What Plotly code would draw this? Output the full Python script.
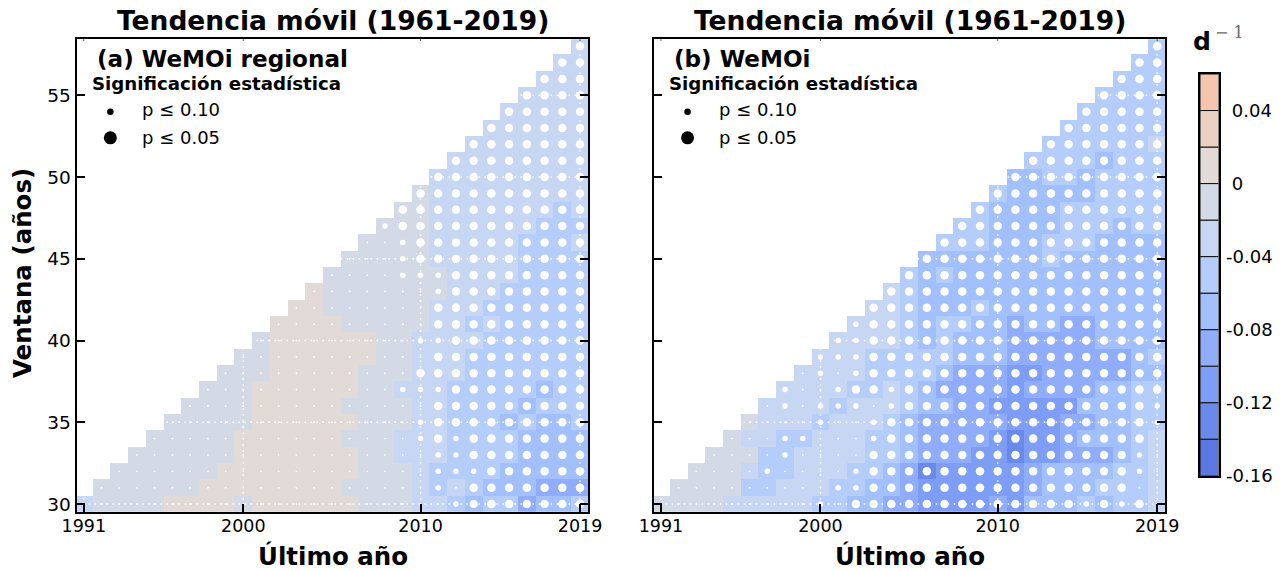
import plotly.graph_objects as go

W, H = 1286, 571
FONT = "DejaVu Sans"

# Window lengths (rows) and last years (columns)
windows = list(range(30, 59))
years = list(range(1991, 2020))
x_ticks = [1991, 2000, 2010, 2019]
y_ticks = [30, 35, 40, 45, 50, 55]

# Trend class per cell: class k means trend in [-0.16+0.02k, -0.14+0.02k); each row starts at year 1961+window
trend_a = [
    "6 7777 8888 7 888888 777 66 5 4 5 5 3 4 4 5",
    "777777 88888888 7777 6 5 6 5 444 333",
    "777777 88888888 777 6 5555 44444",
    "777777 8888888 77 666 5555 4444",
    "77777 888888 777 666 5555 4444",
    "77777 888888 777 66 555 4 5 44 5",
    "7777 88888 7777 66 5555 4 555",
    "777 888888 77 666 55555 4 55",
    "777 88888 777 666 5555555",
    "77 888888 77 666 5555555",
    "7 888888 77 6666 555555",
    "8888 77777 66 5 6 55555",
    "88 777777 666 555555",
    "8 7777777 666 55555",
    "7777777 6666 5555",
    "77777 66666 5555",
    "7777 66666 555 6",
    "777 666666 555",
    "77 6666666 5 6",
    "7 666666666",
    "666666666", "66666666", "6666666", "666666", "66666", "6666", "666", "66", "6",
]
trend_b = [
    "7777 66666 55 44 3 3 2222 3 2 444 5 4 55 6",
    "7777 55 666 55 44 3 222222 3 444 555 6",
    "777 6 55 666 55 4 3 1 22222 3 4444 55 6",
    "777 55 6666 55 4 333 22 1 22 333 4 5 6",
    "7 66 55 666 55 4 3333 2 1 22 3 444 5 6",
    "7 666 5 66 6 5 4 3 3333 222 33 44 55",
    "6666 5 666 5 44 33 22222 444 55",
    "6666 55 6 5 4 3333 2 3333 44 55",
    "6666 555 5 4 333 22 33333 44",
    "666 555 55 444 3333333 4 5",
    "6666 5 4 5 444 33333 4444",
    "666 5 4 55 44 3 44 33 4444",
    "66 5 444 5 4444444444",
    "6 5 44444444444444",
    "5 4 5 444444444444",
    "4444444 5 444444",
    "555 444 555 4444",
    "55 4444 555 4 55",
    "5 4444 555555",
    "5 44444 5555",
    "44 55 4 5555",
    "5555 4 555",
    "555555 6",
    "555555", "55555", "5555", "555", "55", "5",
]

# Significance per cell: 0 none, 1 p<=0.10, 2 p<=0.05
sig_a = [
    "000000000000000000000 1 2222222",
    "0000000000000000000 1 0 2222222",
    "000000000000000000 111 222222",
    "00000000000000000 11 2222222",
    "000000000000000 1 2 1 2222222",
    "00000000000000 1 222222222",
    "00000000000000 222222222",
    "00000000000 111 22222222",
    "00000000000 2222222222",
    "00000000000 222222222",
    "000000000 11 22222222",
    "000000000 222222222",
    "00000000 222222222",
    "0000000 1 22222222",
    "0000 111 22222222",
    "000 1 2222222222",
    "00 1 2222222222",
    "1 22222222222",
    "22222222222", "2222222222", "222222222", "22222222", "2222222", "222222",
    "22222", "2222", "222", "22", "2",
]
sig_b = [
    "000000000 1 0 2222222222222 1 2 1 2 0",
    "000000000 11 222222222222222 00",
    "0000 1 0000 1 222222222222222 1 0",
    "0000 1 0000 222222222222222 1 0",
    "000 11 000 1 222222222222222 0",
    "0000 1 00 1 222222222222222 1",
    "0 1 0 1 1 1 0 1 22222222222222 1",
    "1 00 1 22 1 222222222222222",
    "0 1 0 1 22222222222222222",
    "111 22222222222222222",
    "11 22222222222222222",
    "1 22222222222222222",
    "22222222222222222", "2222222222222222", "222222222222222", "22222222222222",
    "2222222222222", "222222222222", "22222222222", "2222222222", "222222222",
    "22222222", "2222222", "222222", "22222", "2222", "222", "22", "2",
]

bin_edges = [-0.16 + 0.02 * k for k in range(12)]
bin_colors = ["#5a78e0", "#6a8aea", "#7d9df6", "#8fadfb", "#a2bffe", "#b4cdfb",
              "#c6d6f3", "#d4dae5", "#e1dad7", "#ecd1c3", "#f5c5ae"]
cbar_ticks = [-0.16, -0.12, -0.08, -0.04, 0, 0.04]
cbar_labels = ["-0.16", "-0.12", "-0.08", "-0.04", "\u00a00", "\u00a00.04"]
sig_sizes = [1.8, 5.5, 8.5]
panel_names = ["(a) WeMOi regional", "(b) WeMOi"]
key_labels = ["p \u2264 0.10", "p \u2264 0.05"]

ZMIN, ZMAX = bin_edges[0], bin_edges[-1]
scale = []
for k, c in enumerate(bin_colors):
    scale += [[k / 11, c], [(k + 1) / 11, c]]


def parse(rows):
    return [[int(ch) for ch in r.replace(" ", "")] for r in rows]


def build_grid(rows):
    grid = []
    for w, row in zip(windows, parse(rows)):
        start = w - 30
        assert len(row) == 29 - start, (w, len(row))
        cells = [None] * start + [bin_edges[c] + 0.01 for c in row]
        grid.append(cells)
    return grid


def build_dots(rows):
    xs, ys, ss = [], [], []
    for w, row in zip(windows, parse(rows)):
        for j, s in enumerate(row):
            xs.append(years[w - 30 + j])
            ys.append(w)
            ss.append(sig_sizes[s])
    return xs, ys, ss


fig = go.Figure()

# Pixel layout helpers (window pixels to paper fractions)
px_x = lambda p: p / W
px_y = lambda p: 1 - p / H
panel_left = [76.5, 653.7]
panel_right = [588.0, 1165.2]
PANEL_TOP, PANEL_BOT = 39.3, 511.7
X_RANGE = [1990.59, 2019.45]
Y_RANGE = [29.53, 58.425]

for idx, (trend, sig) in enumerate([(trend_a, sig_a), (trend_b, sig_b)]):
    n = "" if idx == 0 else "2"
    fig.add_trace(go.Heatmap(
        x=years, y=windows, z=build_grid(trend), zmin=ZMIN, zmax=ZMAX, colorscale=scale,
        showscale=False, hoverongaps=False, xaxis="x" + n, yaxis="y" + n))
    # white dotted grid over the cells
    gx, gy = [], []
    for t in x_ticks:
        gx += [t, t, None]
        gy += [Y_RANGE[0], Y_RANGE[1], None]
    for t in y_ticks:
        gx += [X_RANGE[0], X_RANGE[1], None]
        gy += [t, t, None]
    fig.add_trace(go.Scatter(x=gx, y=gy, mode="lines", hoverinfo="skip", showlegend=False,
                             line=dict(color="white", width=1.4, dash="1.5px,4.5px"),
                             xaxis="x" + n, yaxis="y" + n))
    xs, ys, ss = build_dots(sig)
    fig.add_trace(go.Scatter(x=xs, y=ys, mode="markers", showlegend=False,
                             marker=dict(color="white", size=ss, opacity=1, line=dict(width=0)),
                             xaxis="x" + n, yaxis="y" + n))
    # key markers of the significance legend
    fig.add_trace(go.Scatter(x=[1992.5, 1992.5], y=[54.0, 52.4], mode="markers", showlegend=False,
                             hoverinfo="skip",
                             marker=dict(color="black", size=[6.5, 13], opacity=1, line=dict(width=0)),
                             xaxis="x" + n, yaxis="y" + n))
    axis_x = dict(domain=[px_x(panel_left[idx]), px_x(panel_right[idx])], range=X_RANGE,
                  tickvals=x_ticks, ticktext=[str(t) for t in x_ticks], ticks="inside", ticklen=8,
                  tickwidth=2, tickcolor="black", showgrid=False, zeroline=False, showline=True,
                  linecolor="black", linewidth=2, mirror=True, anchor="y" + n, automargin=False,
                  ticklabelstandoff=-3,
                  tickfont=dict(family=FONT, size=17.5, color="black"), tickangle=0)
    axis_y = dict(domain=[px_y(PANEL_BOT), px_y(PANEL_TOP)], range=Y_RANGE,
                  tickvals=y_ticks, ticks="inside", ticklen=8, tickwidth=2, tickcolor="black",
                  showgrid=False, zeroline=False, showline=True, linecolor="black", linewidth=2,
                  mirror="ticks", anchor="x" + n, showticklabels=idx == 0, automargin=False,
                  tickfont=dict(family=FONT, size=18.5, color="black"))
    fig.update_layout({"xaxis" + n: axis_x, "yaxis" + n: axis_y})

# Colour key drawn as stacked cells on its own axis
fig.add_trace(go.Bar(x=[0] * 11, y=[0.02] * 11, base=bin_edges[:-1], width=1, orientation="v",
                     marker=dict(color=bin_colors, line=dict(color="#111111", width=1)),
                     hoverinfo="skip", showlegend=False, xaxis="x3", yaxis="y3"))
fig.update_layout(
    barmode="overlay",
    xaxis3=dict(domain=[px_x(1200), px_x(1218.5)], range=[-0.5, 0.5], showticklabels=False, ticks="",
                showgrid=False, zeroline=False, showline=True, linecolor="black", linewidth=2,
                mirror=True, anchor="y3", automargin=False),
    yaxis3=dict(domain=[px_y(475.7), px_y(74)], range=[ZMIN, ZMAX], side="right", anchor="x3",
                tickvals=cbar_ticks, ticktext=cbar_labels, ticks="outside", ticklen=2,
                tickcolor="rgba(0,0,0,0)", showgrid=False, zeroline=False, showline=True,
                linecolor="black", linewidth=2, mirror=True, automargin=False,
                tickfont=dict(family=FONT, size=18, color="black")),
)

ann = []


def text(x, y, s, size, bold=False, color="black", anchor="left", angle=0, family=FONT):
    ann.append(dict(x=px_x(x), y=px_y(y), xref="paper", yref="paper", text=f"<b>{s}</b>" if bold else s,
                    showarrow=False, xanchor=anchor, yanchor="middle", textangle=angle,
                    font=dict(family=family, size=size, color=color)))


for off, name in zip([0, 577.2], panel_names):
    text(333 + off, 20, "Tendencia m\u00f3vil (1961-2019)", 26.5, True, anchor="center")
    text(333 + off, 556, "\u00daltimo a\u00f1o", 24.5, True, anchor="center")
    text(95 + off, 59, name, 23.1, True)
    text(90 + off, 83.5, "Significaci\u00f3n estad\u00edstica", 18.2, True)
    text(140 + off, 110, key_labels[0], 18)
    text(140 + off, 137, key_labels[1], 18)
text(22, 273, "Ventana (a\u00f1os)", 24.5, True, anchor="center", angle=-90)
text(1191, 41, "d", 25, True)
text(1213, 33, "\u2212 1", 16, color="#666666", family="DejaVu Serif")

# Small marks on the top edge
top_marks = [dict(type="line", xref=ax, yref=ay, x0=t, x1=t, y0=Y_RANGE[1], y1=Y_RANGE[1] - 0.08,
                  line=dict(color="black", width=1))
             for ax, ay in [("x", "y"), ("x2", "y2")] for t in x_ticks]

fig.update_layout(width=W, height=H, margin=dict(l=0, r=0, t=0, b=0), autosize=False,
                  paper_bgcolor="white", plot_bgcolor="white", showlegend=False,
                  annotations=ann, shapes=top_marks)
# The page body's default margin is removed so the figure fills the 1286x571 window exactly
fig.write_html("out.html", post_script="document.body.style.margin='0';",
               config={"displayModeBar": False})
